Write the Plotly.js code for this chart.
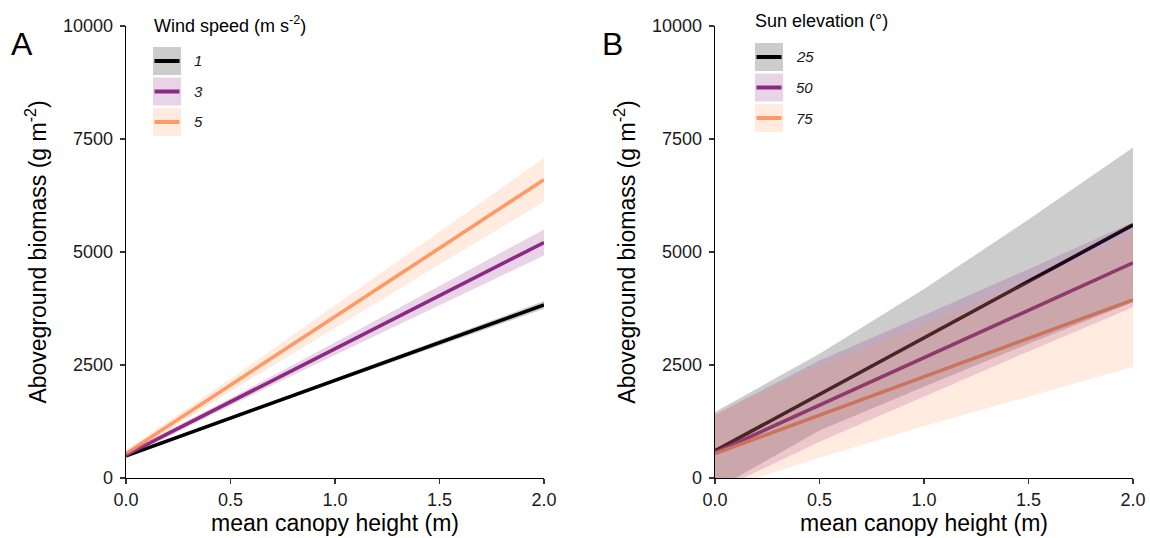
<!DOCTYPE html>
<html>
<head>
<meta charset="utf-8">
<script src="https://cdn.plot.ly/plotly-3.0.1.min.js"></script>
<style>html,body{margin:0;padding:0;background:#fff;}#chart{width:1150px;height:538px;}</style>
</head>
<body>
<div id="chart"></div>
<script>
// ---- data ----
const canopyHeight = [0, 0.5, 1.0, 1.5, 2.0];

// Panel A: wind speed
const windLevels = ["1", "3", "5"];
const wind1Fit = [490, 1325, 2160, 2995, 3830];
const wind1Lo  = [450, 1295, 2120, 2935, 3745];
const wind1Hi  = [530, 1355, 2200, 3055, 3915];
const wind3Fit = [510, 1685, 2860, 4035, 5210];
const wind3Lo  = [450, 1605, 2720, 3825, 4920];
const wind3Hi  = [570, 1765, 3000, 4245, 5500];
const wind5Fit = [540, 2055, 3570, 5085, 6600];
const wind5Lo  = [460, 1915, 3320, 4725, 6110];
const wind5Hi  = [620, 2195, 3820, 5445, 7080];

// Panel B: sun elevation
const sunLevels = ["25", "50", "75"];
const sun25Fit = [600, 1850, 3100, 4350, 5600];
const sun25Lo  = [-260, 1050, 2020, 2970, 3890];
const sun25Hi  = [1460, 2750, 4180, 5720, 7310];
const sun50Fit = [560, 1610, 2660, 3710, 4760];
const sun50Lo  = [-300, 800, 1800, 2800, 3780];
const sun50Hi  = [1400, 2600, 3600, 4620, 5660];
const sun75Fit = [540, 1390, 2240, 3090, 3940];
const sun75Lo  = [-300, 450, 1150, 1800, 2460];
const sun75Hi  = [1400, 2480, 3400, 4350, 5420];

const yTicks = [0, 2500, 5000, 7500, 10000];
const yTickLabels = ["0", "2500", "5000", "7500", "10000"];
const xTicks = [0, 0.5, 1.0, 1.5, 2.0];
const xTickLabels = ["0.0", "0.5", "1.0", "1.5", "2.0"];

// ---- styling ----
const lineColors = ["#000000", "#8C2A82", "#FF9966"];
const fillColors = ["rgba(0,0,0,0.2)", "rgba(140,42,130,0.2)", "rgba(255,153,102,0.2)"];
const FONT = "Liberation Sans, Arial, sans-serif";
const W = 1150, H = 538;
const px = v => v / W, py = v => 1 - v / H;

const panels = [
  {xa: "x", ya: "y", fits: [wind1Fit, wind3Fit, wind5Fit], los: [wind1Lo, wind3Lo, wind5Lo], his: [wind1Hi, wind3Hi, wind5Hi]},
  {xa: "x2", ya: "y2", fits: [sun25Fit, sun50Fit, sun75Fit], los: [sun25Lo, sun50Lo, sun75Lo], his: [sun25Hi, sun50Hi, sun75Hi]}
];

const traces = [];
panels.forEach(p => {
  // lines first
  p.fits.forEach((f, i) => traces.push({
    type: "scatter", mode: "lines", x: canopyHeight, y: f, xaxis: p.xa, yaxis: p.ya,
    line: {color: lineColors[i], width: 3.6}, showlegend: false, hoverinfo: "skip"
  }));
  // ribbons on top (translucent)
  p.fits.forEach((f, i) => traces.push({
    type: "scatter", mode: "lines",
    x: canopyHeight.concat(canopyHeight.slice().reverse()),
    y: p.his[i].concat(p.los[i].slice().reverse()),
    xaxis: p.xa, yaxis: p.ya, fill: "toself", fillcolor: fillColors[i],
    line: {width: 0, color: "rgba(0,0,0,0)"}, showlegend: false, hoverinfo: "skip"
  }));
});

const xBase = {
  range: [0, 2], tickvals: xTicks, ticktext: xTickLabels, showgrid: false, zeroline: false,
  showline: true, linecolor: "#000", linewidth: 1.3, ticks: "outside", ticklen: 5,
  tickwidth: 1.3, tickcolor: "#333", tickfont: {family: FONT, size: 18, color: "#1a1a1a"},
  title: {text: "mean canopy height (m)", font: {family: FONT, size: 23, color: "#000"}, standoff: 6},
  fixedrange: true
};
const yBase = {
  range: [0, 10000], tickvals: yTicks, ticktext: yTickLabels, showgrid: false, zeroline: false,
  showline: true, linecolor: "#000", linewidth: 1.3, ticks: "outside", ticklen: 5,
  tickwidth: 1.3, tickcolor: "#333", tickfont: {family: FONT, size: 18, color: "#1a1a1a"},
  ticklabelstandoff: 3,
  title: {text: "Aboveground biomass (g m<sup>-2</sup>)", font: {family: FONT, size: 23, color: "#000"}, standoff: 10},
  domain: [py(478), py(26)], fixedrange: true
};

const layout = {
  width: W, height: H, margin: {l: 0, r: 0, t: 0, b: 0},
  paper_bgcolor: "#fff", plot_bgcolor: "#fff", showlegend: false,
  font: {family: FONT},
  xaxis: Object.assign({}, xBase, {domain: [px(126), px(544)], anchor: "y"}),
  yaxis: Object.assign({}, yBase, {anchor: "x"}),
  xaxis2: Object.assign({}, xBase, {domain: [px(715), px(1133)], anchor: "y2"}),
  yaxis2: Object.assign({}, yBase, {anchor: "x2"}),
  shapes: [], annotations: []
};

// panel letters
[["A", 22], ["B", 612]].forEach(([t, x]) => layout.annotations.push({
  text: t, x: px(x), y: py(44), xref: "paper", yref: "paper", showarrow: false,
  xanchor: "center", yanchor: "middle", font: {family: FONT, size: 32, color: "#000"}
}));

// legends (drawn as keys like the reference)
function addLegend(title, titleX, titleY, keyX, keyY0, levels) {
  layout.annotations.push({
    text: title, x: px(titleX), y: py(titleY), xref: "paper", yref: "paper", showarrow: false,
    xanchor: "left", yanchor: "middle", font: {family: FONT, size: 18, color: "#000"}
  });
  levels.forEach((lab, i) => {
    const top = keyY0 + i * 30.5, bot = top + 28, mid = (top + bot) / 2;
    layout.shapes.push({type: "rect", xref: "paper", yref: "paper",
      x0: px(keyX), x1: px(keyX + 28), y0: py(bot), y1: py(top),
      fillcolor: fillColors[i], line: {width: 0}});
    layout.shapes.push({type: "line", xref: "paper", yref: "paper",
      x0: px(keyX + 1.5), x1: px(keyX + 26.5), y0: py(mid), y1: py(mid),
      line: {color: lineColors[i], width: 4}});
    layout.annotations.push({
      text: "<i>" + lab + "</i>", x: px(keyX + 39), y: py(mid), xref: "paper", yref: "paper",
      showarrow: false, xanchor: "left", yanchor: "middle",
      font: {family: FONT, size: 15, color: "#1a1a1a"}
    });
  });
}
addLegend("Wind speed (m s<sup>-2</sup>)", 152, 24, 153, 47, windLevels);
addLegend("Sun elevation (°)", 753, 21, 755, 43, sunLevels);

Plotly.newPlot("chart", traces, layout, {staticPlot: true, displayModeBar: false});
</script>
</body>
</html>
